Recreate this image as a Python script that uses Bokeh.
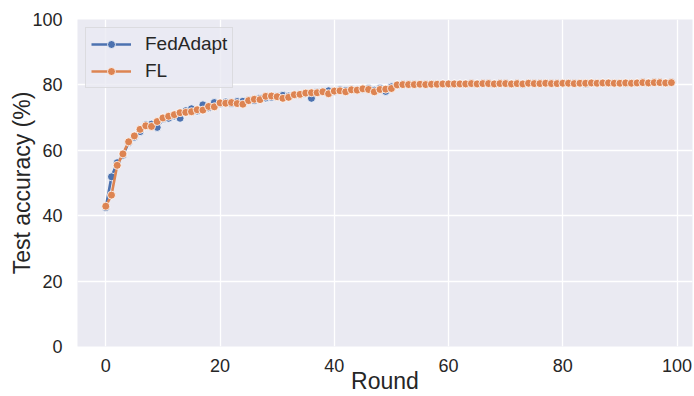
from bokeh.plotting import figure
from bokeh.models import Range1d, FixedTicker, Legend, LegendItem
from bokeh.embed import file_html
from bokeh.resources import INLINE

# Test accuracy per communication round
rounds = list(range(100))

fl_acc = [
    42.9, 46.3, 55.4, 58.9, 62.6, 64.4, 66.4, 67.5, 67.3, 68.8,
    69.9, 70.4, 70.9, 71.5, 71.6, 71.8, 72.4, 72.3, 73.4, 73.3,
    74.5, 74.4, 74.6, 74.3, 74.1, 75.2, 75.6, 75.5, 76.5, 76.6,
    76.4, 75.9, 76.2, 77.0, 77.1, 77.5, 77.6, 77.6, 77.9, 77.3,
    78.1, 78.2, 77.9, 78.5, 78.4, 78.8, 78.6, 77.9, 78.6, 78.7,
    78.9, 80.0, 80.1, 80.1, 80.1, 80.2, 80.1, 80.2, 80.2, 80.3,
    80.3, 80.3, 80.3, 80.3, 80.4, 80.3, 80.4, 80.4, 80.3, 80.4,
    80.4, 80.3, 80.4, 80.3, 80.5, 80.4, 80.4, 80.5, 80.4, 80.4,
    80.5, 80.5, 80.4, 80.5, 80.5, 80.6, 80.5, 80.6, 80.6, 80.5,
    80.5, 80.6, 80.5, 80.6, 80.7, 80.6, 80.7, 80.7, 80.6, 80.7,
]

fedadapt_acc = [
    42.5, 51.9, 56.2, 58.5, 62.3, 64.0, 65.7, 67.8, 68.0, 67.0,
    69.6, 69.8, 70.5, 69.8, 72.1, 72.7, 72.0, 73.9, 73.0, 74.6,
    74.2, 74.8, 74.3, 74.9, 75.0, 75.3, 75.2, 75.9, 76.0, 76.2,
    76.5, 76.8, 76.6, 77.0, 77.2, 77.3, 75.9, 77.8, 78.0, 78.2,
    78.0, 78.5, 78.3, 78.6, 78.5, 78.7, 78.9, 78.4, 79.0, 78.0,
    79.4, 80.0, 80.1, 80.1, 80.1, 80.2, 80.1, 80.2, 80.2, 80.3,
    80.3, 80.3, 80.3, 80.3, 80.4, 80.3, 80.4, 80.4, 80.3, 80.4,
    80.4, 80.3, 80.4, 80.1, 80.5, 80.4, 80.4, 80.5, 80.4, 80.4,
    80.5, 80.5, 80.4, 80.5, 80.3, 80.6, 80.5, 80.6, 80.6, 80.5,
    80.5, 80.4, 80.5, 80.6, 80.7, 80.6, 80.7, 80.7, 80.6, 80.7,
]

series_names = ["FedAdapt", "FL"]
x_ticks = [0, 20, 40, 60, 80, 100]
y_ticks = [0, 20, 40, 60, 80, 100]

BLUE = "#4C72B0"
ORANGE = "#DD8452"
BG = "#EAEAF2"
TEXT = "#262626"
FONT = "Liberation Sans"

p = figure(
    width=694, height=396,
    x_range=Range1d(-4.95, 102.7), y_range=Range1d(0, 100),
    output_backend="svg", toolbar_location=None,
    min_border_left=77, min_border_right=2,
    min_border_top=19, min_border_bottom=48,
)
p.background_fill_color = BG
p.border_fill_color = "white"
p.outline_line_color = None

p.xgrid.ticker = FixedTicker(ticks=x_ticks)
p.ygrid.ticker = FixedTicker(ticks=y_ticks)
for g in (p.xgrid, p.ygrid):
    g.grid_line_color = "white"
    g.grid_line_width = 1.3

for ax, ticks in ((p.xaxis, x_ticks), (p.yaxis, y_ticks)):
    ax.ticker = FixedTicker(ticks=ticks)
    ax.axis_line_color = None
    ax.major_tick_line_color = None
    ax.minor_tick_line_color = None
    ax.major_label_text_font = FONT
    ax.major_label_text_font_size = "18px"
    ax.major_label_text_color = TEXT
    ax.axis_label_text_font = FONT
    ax.axis_label_text_font_size = "23px"
    ax.axis_label_text_font_style = "normal"
    ax.axis_label_text_color = TEXT

p.xaxis.axis_label = "Round"
p.yaxis.axis_label = "Test accuracy (%)"
p.xaxis.major_label_standoff = 6
p.yaxis.major_label_standoff = 9
p.xaxis.axis_label_standoff = -7
p.yaxis.axis_label_standoff = -6

items = []
for name, ys, color in ((series_names[0], fedadapt_acc, BLUE),
                        (series_names[1], fl_acc, ORANGE)):
    ln = p.line(rounds, ys, line_color=color, line_width=2.6)
    sc = p.scatter(rounds, ys, size=8, fill_color=color,
                   line_color="white", line_width=0.8)
    items.append(LegendItem(label=name, renderers=[ln, sc]))

legend = Legend(
    items=items, location="top_left", margin=8,
    label_text_font=FONT, label_text_font_size="19px",
    label_text_color=TEXT,
    glyph_width=40, glyph_height=20, label_standoff=14,
    spacing=5, padding=5,
    background_fill_color=BG, background_fill_alpha=0.8,
    border_line_color="#CCCCCC", border_line_width=1,
)
p.add_layout(legend, "center")

open("out.html", "w").write(file_html(p, INLINE))
